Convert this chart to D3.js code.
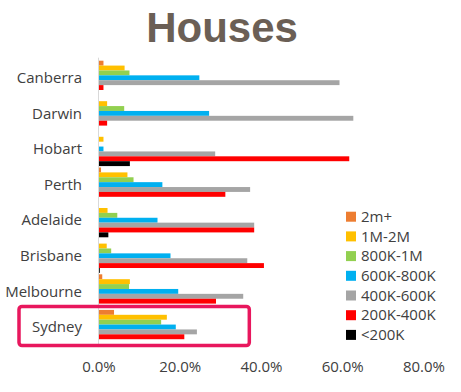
<!DOCTYPE html>
<html>
<head>
<meta charset="utf-8">
<script src="https://cdnjs.cloudflare.com/ajax/libs/d3/7.8.5/d3.min.js"></script>
<style>
  body { margin: 0; background: #fff; }
  text { font-family: "Open Sans", sans-serif; }
</style>
</head>
<body>
<script>
// cities top to bottom
var cities = ["Canberra", "Darwin", "Hobart", "Perth", "Adelaide", "Brisbane", "Melbourne", "Sydney"];
var seriesNames = ["2m+", "1M-2M", "800K-1M", "600K-800K", "400K-600K", "200K-400K", "<200K"];
var seriesColors = ["#ED7D31", "#FFC000", "#92D050", "#00B0F0", "#A5A5A5", "#FF0000", "#000000"];

// share of houses (%), one value per city
var s2mPlus   = [1.1, 0,    0,    0.5,  0,    0,    0.8,  3.7];
var s1m2m     = [6.3, 2.0,  1.1,  7.0,  2.1,  1.9,  7.6,  16.7];
var s800k1m   = [7.5, 6.2,  0,    8.5,  4.5,  3.0,  7.4,  15.3];
var s600k800k = [24.7, 27.1, 1.1, 15.6, 14.4, 17.6, 19.5, 18.9];
var s400k600k = [59.2, 62.6, 28.6, 37.2, 38.2, 36.5, 35.5, 24.1];
var s200k400k = [1.1, 2.0,  61.6, 31.1, 38.2, 40.6, 28.8, 21.0];
var sUnder200k = [0,  0,    7.6,  0,    2.3,  0.2,  0,    0];

var xTicks = [0, 20, 40, 60, 80];
var highlight = "Sydney";

var allSeries = [s2mPlus, s1m2m, s800k1m, s600k800k, s400k600k, s200k400k, sUnder200k];

var width = 461, height = 392;
var svg = d3.select("body").append("svg")
    .attr("width", width)
    .attr("height", height);

var x = d3.scaleLinear().domain([0, 80]).range([99, 424]);
var y = d3.scaleBand().domain(cities).range([60.7, 344.1]).paddingInner(0.04);
var ySub = d3.scaleBand().domain(seriesNames).range([0, y.bandwidth()]);

// title
svg.append("text")
    .attr("x", 222)
    .attr("y", 42)
    .attr("text-anchor", "middle")
    .style("font-family", "'Liberation Sans', Arial, sans-serif")
    .style("font-weight", "bold")
    .style("font-size", "42px")
    .attr("fill", "#6B5F55")
    .text("Houses");

// bars
var rows = [];
cities.forEach(function (c, i) {
  seriesNames.forEach(function (s, j) {
    rows.push({ city: c, series: s, color: seriesColors[j], value: allSeries[j][i] });
  });
});

svg.append("g").selectAll("rect")
  .data(rows)
  .enter().append("rect")
    .attr("x", x(0))
    .attr("y", function (d) { return y(d.city) + ySub(d.series); })
    .attr("width", function (d) { return x(d.value) - x(0); })
    .attr("height", ySub.bandwidth())
    .attr("fill", function (d) { return d.color; });

// vertical axis line
svg.append("line")
    .attr("x1", x(0) - 0.5).attr("x2", x(0) - 0.5)
    .attr("y1", y.range()[0] - 3).attr("y2", y.range()[1] + 3)
    .attr("stroke", "#D9D9D9");

// city labels
svg.append("g").selectAll("text")
  .data(cities)
  .enter().append("text")
    .attr("x", 82)
    .attr("y", function (d) { return y(d) + y.bandwidth() / 2; })
    .attr("dy", "0.35em")
    .attr("text-anchor", "end")
    .style("font-size", "15px")
    .attr("fill", "#404040")
    .text(function (d) { return d; });

// x tick labels
svg.append("g").selectAll("text")
  .data(xTicks)
  .enter().append("text")
    .attr("x", function (d) { return x(d); })
    .attr("y", 372)
    .attr("text-anchor", "middle")
    .style("font-size", "15px")
    .attr("fill", "#404040")
    .text(function (d) { return d.toFixed(1) + "%"; });

// highlight box round sydney
svg.append("rect")
    .attr("x", 19)
    .attr("y", y(highlight) - 3.5)
    .attr("width", x(37) - 19)
    .attr("height", y.bandwidth() + 5)
    .attr("rx", 3)
    .attr("fill", "none")
    .attr("stroke", "#E8175D")
    .attr("stroke-width", 3.5);

// legend
var legend = svg.append("g").selectAll("g")
  .data(seriesNames)
  .enter().append("g")
    .attr("transform", function (d, i) { return "translate(346," + (216.7 + i * 19.7) + ")"; });

legend.append("rect")
    .attr("x", 0).attr("y", -5)
    .attr("width", 10).attr("height", 10)
    .attr("fill", function (d, i) { return seriesColors[i]; });

legend.append("text")
    .attr("x", 15)
    .attr("dy", "0.35em")
    .style("font-size", "15px")
    .attr("fill", "#404040")
    .text(function (d) { return d; });
</script>
</body>
</html>
